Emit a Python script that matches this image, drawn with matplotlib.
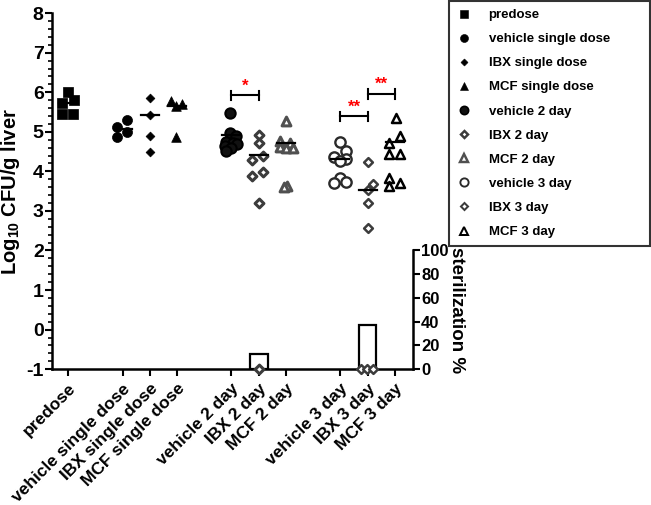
import numpy as np
import matplotlib
matplotlib.use("Agg")
import matplotlib.pyplot as plt
from matplotlib.lines import Line2D
from matplotlib.ticker import MultipleLocator

plt.rcParams["font.family"] = ["Liberation Sans", "DejaVu Sans"]
plt.rcParams["font.weight"] = "bold"
plt.rcParams["mathtext.fontset"] = "custom"
plt.rcParams["mathtext.rm"] = "Liberation Sans:bold"
plt.rcParams["mathtext.default"] = "rm"
plt.rcParams["axes.unicode_minus"] = False

# ── Data (log10 CFU/g liver) ──────────────────────────────────────────────
GROUPS = ["predose", "vehicle single dose", "IBX single dose", "MCF single dose",
          "vehicle 2 day", "IBX 2 day", "MCF 2 day",
          "vehicle 3 day", "IBX 3 day", "MCF 3 day"]
POSITIONS = [0, 2, 3, 4, 6, 7, 8, 10, 11, 12]

predose        = [6.00, 5.81, 5.73, 5.46, 5.46]
vehicle_single = [5.31, 5.12, 5.00, 4.87]
ibx_single     = [5.85, 5.43, 4.89, 4.50]
mcf_single     = [5.77, 5.70, 5.66, 4.86]
vehicle_2day   = [5.48, 4.97, 4.90, 4.75, 4.72, 4.68, 4.64, 4.60, 4.51]
ibx_2day       = [4.93, 4.72, 4.38, 4.28, 3.98, 3.88, 3.21, -1.0]
mcf_2day       = [5.28, 4.76, 4.72, 4.62, 4.60, 4.58, 3.63, 3.60]
vehicle_3day   = [4.74, 4.51, 4.37, 4.30, 4.26, 3.84, 3.73, 3.70]
ibx_3day       = [4.24, 3.67, 3.53, 3.21, 2.56, -1.0, -1.0, -1.0]
mcf_3day       = [5.35, 4.89, 4.72, 4.43, 4.43, 3.82, 3.70, 3.63]
VALUES = [predose, vehicle_single, ibx_single, mcf_single,
          vehicle_2day, ibx_2day, mcf_2day,
          vehicle_3day, ibx_3day, mcf_3day]

MEDIANS = [5.73, 5.08, 5.43, 5.64, 4.91, 4.41, 4.72, 4.32, 3.53, 4.75]

# horizontal scatter offsets (as seen in the figure)
JITTER = [
    [0.0, 0.2, -0.22, -0.22, 0.17],
    [0.18, -0.22, 0.18, -0.22],
    [0.0, 0.0, 0.0, 0.0],
    [-0.23, 0.17, -0.05, -0.02],
    [-0.05, -0.05, 0.15, -0.2, 0.05, 0.2, -0.25, 0.0, -0.2],
    [0.0, 0.0, 0.17, -0.23, 0.17, -0.23, 0.0, 0.0],
    [0.0, -0.2, 0.15, -0.2, 0.0, 0.25, 0.05, -0.08],
    [0.0, 0.2, -0.24, 0.2, 0.0, 0.0, 0.2, -0.24],
    [0.0, 0.2, 0.0, 0.0, 0.0, -0.24, -0.02, 0.2],
    [0.03, 0.18, -0.2, -0.2, 0.18, -0.2, 0.18, -0.2],
]

# sterilization % (right axis)
STERIL_POS = [7, 11]
STERIL_PCT = [12.5, 37.5]

# significance brackets: (x1, x2, y, label)
BRACKETS = [(6, 7, 5.92, "*"), (10, 11, 5.39, "**"), (11, 12, 5.96, "**")]

# ── Marker styles ────────────────────────────────────────────────────────
DARK = "#3c3c3c"
STYLES = [
    dict(marker="s", s=48, fc="black", ec="black", lw=0.5),
    dict(marker="o", s=52, fc="black", ec="black", lw=0.5),
    dict(marker="D", s=20, fc="black", ec="black", lw=0.5),
    dict(marker="^", s=48, fc="black", ec="black", lw=0.5),
    dict(marker="o", s=55, fc="#111111", ec="black", lw=1.5),
    dict(marker="D", s=20, fc="white", ec=DARK, lw=2.2),
    dict(marker="^", s=40, fc="white", ec="#505050", lw=2.2),
    dict(marker="o", s=55, fc="white", ec="#2a2a2a", lw=1.7),
    dict(marker="D", s=20, fc="white", ec=DARK, lw=1.8),
    dict(marker="^", s=42, fc="white", ec="black", lw=1.8),
]

fig = plt.figure(figsize=(6.51, 5.05), dpi=100)
ax = fig.add_axes([0.080, 0.269, 0.554, 0.705])

for pos, vals, jit, st in zip(POSITIONS, VALUES, JITTER, STYLES):
    ax.scatter(np.array(jit) + pos, vals, marker=st["marker"], s=st["s"],
               facecolors=st["fc"], edgecolors=st["ec"], linewidths=st["lw"],
               zorder=6, clip_on=False)

for pos, med in zip(POSITIONS, MEDIANS):
    ax.plot([pos - 0.33, pos + 0.33], [med, med], color="black", lw=1.6, zorder=7)

for x1, x2, y, lab in BRACKETS:
    ax.plot([x1, x2], [y, y], color="black", lw=1.5)
    ax.plot([x1, x1], [y - 0.12, y + 0.12], color="black", lw=1.5)
    ax.plot([x2, x2], [y - 0.12, y + 0.12], color="black", lw=1.5)
    ax.text((x1 + x2) / 2, y + 0.05, lab, color="red", ha="center",
            va="bottom", fontsize=12, fontweight="bold")

ax.set_xlim(-0.59, 12.66)
ax.set_ylim(-1, 8)
ax.set_xticks(POSITIONS)
ax.set_xticklabels(GROUPS, rotation=45, ha="right", rotation_mode="anchor",
                   fontsize=12.5, fontweight="bold")
ax.yaxis.set_major_locator(MultipleLocator(1))
ax.yaxis.set_minor_locator(MultipleLocator(0.2))
ax.tick_params(axis="y", which="major", labelsize=14, width=1.5, length=5, pad=1)
ax.tick_params(axis="y", which="minor", width=1.2, length=3)
ax.tick_params(axis="x", width=1.5, length=5)
for lab in ax.get_yticklabels():
    lab.set_fontweight("bold")
ax.spines["top"].set_visible(False)
ax.spines["right"].set_visible(False)
ax.spines["left"].set_linewidth(1.8)
ax.spines["bottom"].set_linewidth(1.8)
ax.set_ylabel("Log$_{10}$ CFU/g liver", fontsize=14.5, fontweight="bold", labelpad=3)

# ── Sterilization bars on right axis ─────────────────────────────────────
axr = ax.inset_axes([0, 0, 1, 3 / 9])
axr.patch.set_visible(False)
axr.set_xlim(ax.get_xlim())
axr.set_ylim(0, 100)
axr.bar(STERIL_POS, STERIL_PCT, width=0.65, facecolor="none",
        edgecolor="black", linewidth=1.6, zorder=1)
for side in ["left", "top", "bottom"]:
    axr.spines[side].set_visible(False)
axr.spines["right"].set_linewidth(1.8)
axr.set_xticks([])
axr.yaxis.tick_right()
axr.yaxis.set_label_position("right")
axr.set_yticks(range(0, 101, 20))
axr.tick_params(axis="y", labelsize=12, width=1.5, length=5, pad=1)
for lab in axr.get_yticklabels():
    lab.set_fontweight("bold")
axr.set_ylabel("sterilization %", rotation=270, fontsize=13.5,
               fontweight="bold", labelpad=12)

# ── Legend ───────────────────────────────────────────────────────────────
handles = []
for name, st in zip(GROUPS, STYLES):
    handles.append(Line2D([], [], linestyle="none", marker=st["marker"],
                          markersize=np.sqrt(st["s"]) * 0.8,
                          markerfacecolor=st["fc"], markeredgecolor=st["ec"],
                          markeredgewidth=st["lw"] * 0.8, label=name))
leg = fig.legend(handles=handles, loc="upper left",
                 bbox_to_anchor=(449 / 651, 0.0, 201 / 651, 0.998),
                 mode="expand", frameon=True, fancybox=False,
                 edgecolor="black", labelspacing=0.9, handlelength=1.0,
                 handletextpad=1.4, borderpad=0.6, borderaxespad=0.0,
                 prop={"weight": "bold", "size": 9.5})
leg.get_frame().set_linewidth(1.5)

fig.savefig("out.png", dpi=100)
